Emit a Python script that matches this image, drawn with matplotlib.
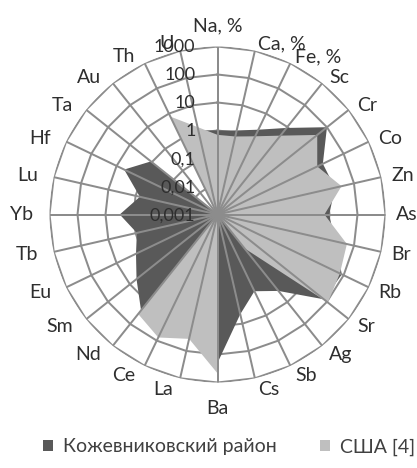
import numpy as np
import matplotlib
matplotlib.use("Agg")
import matplotlib.pyplot as plt
from matplotlib.patches import Patch
from matplotlib.transforms import ScaledTranslation

plt.rcParams['font.family'] = ['Lato', 'DejaVu Sans']

# ---- data ----
categories = ["Na, %", "Ca, %", "Fe, %", "Sc", "Cr", "Co", "Zn", "As", "Br", "Rb",
              "Sr", "Ag", "Sb", "Cs", "Ba", "La", "Ce", "Nd", "Sm", "Eu", "Tb",
              "Yb", "Lu", "Hf", "Ta", "Au", "Th", "U"]
kozhevnikovsky = [1.0, 1.2, 2.3, 9, 100, 15, 20, 9.8, 20, 85,
                  72, 3.1, 1.1, 4.5, 200, 20, 40, 24, 5, 1.7, 0.9,
                  3.1, 0.7, 5, 1.1, 0.001, 4, 1.2]
usa = [0.7, 0.72, 1.26, 4.0, 36, 9, 35, 6.6, 55, 71,
       110, 0.035, 0.001, 0.001, 470, 36, 75, 35, 0.001, 0.001, 0.001,
       0.001, 0.001, 0.001, 0.001, 0.001, 7.6, 1.6]
ring_values = [0.001, 0.01, 0.1, 1, 10, 100, 1000]
ring_labels = ["0,001", "0,01", "0,1", "1", "10", "100", "1000"]
series_names = ["Кожевниковский район", "США [4]"]

DARK = "#595959"
LIGHT = "#BFBFBF"
GRID = "#8C8C8C"
TXT = "#2E2E2E"

W, H = 417, 468
DPI = 100
fig = plt.figure(figsize=(W / DPI, H / DPI), dpi=DPI)
cx, cy, R = 217.5, 214.5, 168
ax = fig.add_axes([(cx - R) / W, (H - cy - R) / H, 2 * R / W, 2 * R / H],
                  projection='polar')
ax.set_theta_zero_location('N')
ax.set_theta_direction(-1)
ax.set_rscale('log')
ax.set_rlim(ring_values[0], ring_values[-1])
ax.grid(False)
ax.set_xticks([])
ax.set_yticks([])
ax.spines['polar'].set_visible(False)
ax.patch.set_visible(False)

n = len(categories)
theta = np.arange(n) * 2 * np.pi / n
theta_c = np.append(theta, theta[0])

lw = 2.0 * 72 / DPI

# polygon rings (behind fills)
for v in ring_values[1:]:
    ax.plot(theta_c, [v] * (n + 1), color=GRID, lw=lw, zorder=1,
            solid_joinstyle='miter')

# fills
ax.fill(theta, kozhevnikovsky, color=DARK, lw=0, zorder=2)
ax.fill(theta, usa, color=LIGHT, lw=0, zorder=3)

# spokes on top
for t in theta:
    ax.plot([t, t], [ring_values[0], ring_values[-1]], color=GRID, lw=lw,
            zorder=4, solid_capstyle='butt')

# value labels
off = ScaledTranslation(-22 / DPI, -1 / DPI, fig.dpi_scale_trans)
for v, lab in zip(ring_values, ring_labels):
    ax.text(0, v, lab, ha='right', va='center', fontsize=13, color=TXT,
            transform=ax.transData + off, zorder=5)

# category labels (offsets in pixels -> points)
px = 72 / DPI
for t, lab in zip(theta, categories):
    s, c = np.sin(t), np.cos(t)
    if abs(s) < 0.01:
        ha = 'center'
        dx = 0
        dy = 21 if c > 0 else -26
    else:
        if s > 0:
            ha = 'left'
            dx = 1 + 9 * s
        else:
            ha = 'right'
            dx = -(4 + 12 * abs(s))
        dy = 7 * c if c > 0 else 11 * c
    ax.annotate(lab, xy=(t, ring_values[-1]), xytext=(dx * px, dy * px),
                textcoords='offset points', ha=ha, va='center', fontsize=14,
                color=TXT, annotation_clip=False)

handles = [Patch(facecolor=DARK, edgecolor='none'),
           Patch(facecolor=LIGHT, edgecolor='none')]
fig.legend(handles, series_names, loc='center', bbox_to_anchor=(0.549, 1 - 447 / H),
           ncol=2, frameon=False, fontsize=14, handlelength=0.55,
           handleheight=0.55, handletextpad=0.5, columnspacing=2.2,
           labelcolor='#404040', borderpad=0)

fig.savefig("out.png", dpi=DPI)
